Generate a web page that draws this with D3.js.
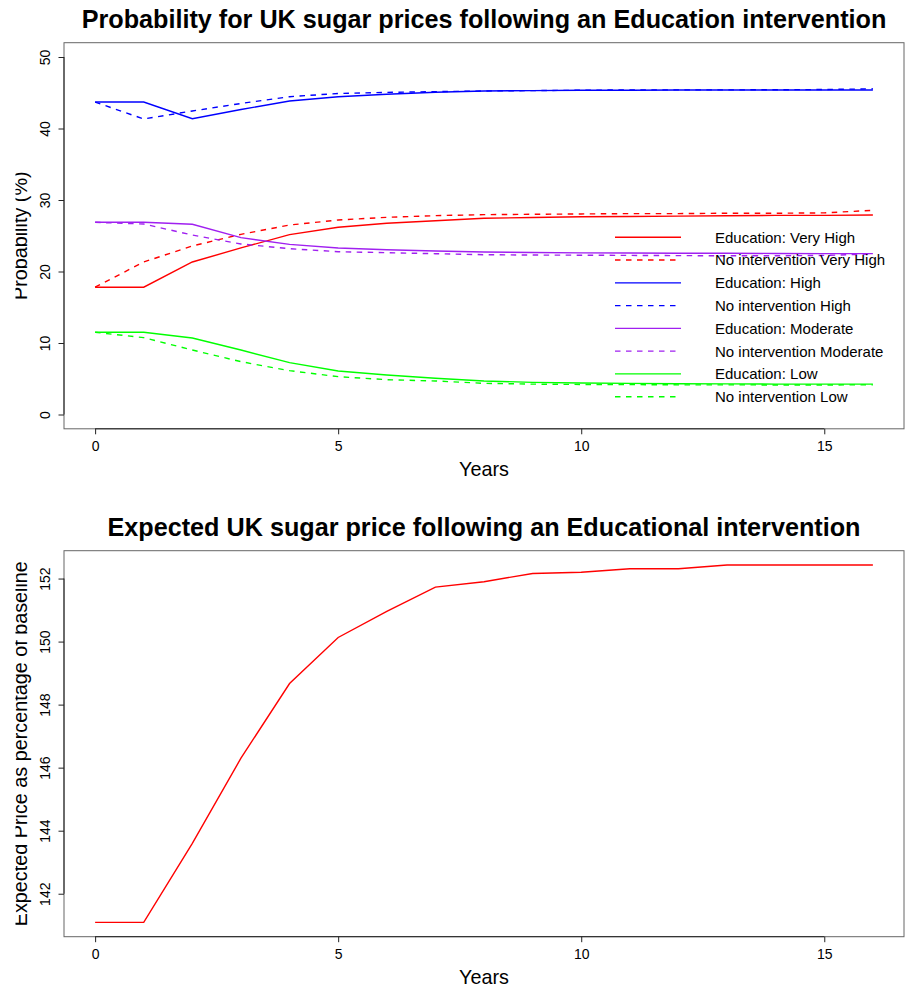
<!DOCTYPE html>
<html><head><meta charset="utf-8">
<script src="https://cdn.jsdelivr.net/npm/d3@7"></script>
<style>
body{margin:0;background:#fff}
svg{display:block}
text{font-family:"Liberation Sans",Arial,Helvetica,sans-serif;fill:#000}
</style>
</head><body>
<svg id="c" width="906" height="990"></svg>
<script>
// ---------- data ----------
const years = [0,1,2,3,4,5,6,7,8,9,10,11,12,13,14,15,16];
const eduVeryHigh = [17.8,17.8,21.33,23.3,25.15,26.18,26.74,27.1,27.44,27.55,27.65,27.7,27.75,27.8,27.85,27.85,27.9];
const noVeryHigh  = [17.8,21.33,23.57,25.2,26.5,27.2,27.58,27.81,27.95,28.0,28.05,28.1,28.1,28.15,28.15,28.2,28.55];
const eduHigh     = [43.7,43.7,41.37,42.65,43.85,44.45,44.8,45.06,45.24,45.3,45.35,45.35,45.38,45.38,45.38,45.38,45.38];
const noHigh      = [43.7,41.33,42.45,43.5,44.45,44.9,45.05,45.15,45.25,45.3,45.35,45.4,45.4,45.4,45.42,45.45,45.55];
const eduModerate = [26.88,26.88,26.6,24.73,23.8,23.29,23.05,22.87,22.73,22.65,22.6,22.58,22.55,22.55,22.52,22.5,22.5];
const noModerate  = [26.88,26.64,25.1,23.85,23.19,22.77,22.63,22.49,22.35,22.3,22.28,22.25,22.22,22.2,22.2,22.25,22.45];
const eduLow      = [11.5,11.5,10.7,9.02,7.25,6.08,5.52,5.06,4.69,4.5,4.4,4.35,4.3,4.28,4.25,4.25,4.25];
const noLow       = [11.5,10.75,9.02,7.39,6.13,5.29,4.87,4.69,4.36,4.25,4.2,4.18,4.15,4.15,4.13,4.13,4.15];
const expectedPrice = [141.09,141.09,143.6,146.3,148.67,150.13,150.96,151.73,151.9,152.16,152.2,152.31,152.31,152.43,152.43,152.43,152.43];

const legendLabels = ["Education: Very High","No intervention Very High","Education: High","No intervention High",
  "Education: Moderate","No intervention Moderate","Education: Low","No intervention Low"];
const seriesValues = [eduVeryHigh,noVeryHigh,eduHigh,noHigh,eduModerate,noModerate,eduLow,noLow];
const seriesColors = ["#FF0000","#FF0000","#0000FF","#0000FF","#A020F0","#A020F0","#00FF00","#00FF00"];
const seriesDashed = [false,true,false,true,false,true,false,true];

const xTicks = [0,5,10,15];
const yTicksTop = [0,10,20,30,40,50];
const yTicksBottom = [142,144,146,148,150,152];

const title1 = "Probability for UK sugar prices following an Education intervention";
const title2 = "Expected UK sugar price following an Educational intervention";
const xLabel = "Years";
const yLabel1 = "Probability (%)";
const yLabel2 = "Expected Price as percentage of baseline";

// ---------- drawing ----------
const svg = d3.select("#c");
const L = 64, R = 904;
const DASH = "5.5,5.5";
const LW = 1.4;

svg.append("clipPath").attr("id","leftclip")
  .append("rect").attr("x",15.5).attr("y",0).attr("width",900).attr("height",990);

function pad(ext){ const d=(ext[1]-ext[0])*0.04; return [ext[0]-d, ext[1]+d]; }

function panel(top, bottom, yDomain, yTicks, title, yLab){
  const x = d3.scaleLinear().domain(pad([0,16])).range([L,R]);
  const y = d3.scaleLinear().domain(pad(yDomain)).range([bottom, top]);
  const g = svg.append("g");
  g.append("rect").attr("x",L).attr("y",top).attr("width",R-L).attr("height",bottom-top)
    .attr("fill","none").attr("stroke","#666").attr("stroke-width",1);
  const xa = g.append("g").attr("transform",`translate(0,${bottom})`)
    .call(d3.axisBottom(x).tickValues(xTicks).tickSize(5.5).tickFormat(d3.format("d")));
  xa.select(".domain").attr("d",`M${x(xTicks[0])},0H${x(xTicks[xTicks.length-1])}`).attr("stroke","#222");
  xa.selectAll(".tick line").attr("stroke","#222");
  xa.selectAll(".tick text").attr("font-size",14).attr("font-family",null).attr("dy",null).attr("y",22);
  const ya = g.append("g").attr("transform",`translate(${L},0)`)
    .call(d3.axisLeft(y).tickValues(yTicks).tickSize(5.5).tickFormat(d3.format("d")));
  ya.select(".domain").attr("d",`M0,${y(yTicks[0])}V${y(yTicks[yTicks.length-1])}`).attr("stroke","#222");
  ya.selectAll(".tick line").attr("stroke","#222");
  ya.selectAll(".tick text").attr("font-size",14).attr("font-family",null)
    .attr("x",null).attr("dy",null).attr("text-anchor","middle")
    .attr("transform","translate(-14,0) rotate(-90)");
  svg.append("text").attr("x",(L+R)/2).attr("y",top-14.5).attr("text-anchor","middle")
    .attr("font-size",25.2).attr("font-weight","bold").text(title);
  svg.append("text").attr("x",(L+R)/2).attr("y",bottom+47).attr("text-anchor","middle")
    .attr("font-size",19.8).text(xLabel);
  svg.append("g").attr("clip-path","url(#leftclip)")
    .append("text")
    .attr("transform",`translate(27,${(top+bottom)/2}) rotate(-90)`)
    .attr("text-anchor","middle").attr("font-size",19.8).text(yLab);
  return {x,y,g};
}

const p1 = panel(42.7, 428.8, [0,50], yTicksTop, title1, yLabel1);
const p2 = panel(550.7, 936.7, d3.extent(expectedPrice), yTicksBottom, title2, yLabel2);

// top chart lines
const line1 = d3.line().x((d,i)=>p1.x(years[i])).y(d=>p1.y(d));
seriesValues.forEach((vals,k)=>{
  p1.g.append("path").attr("d",line1(vals)).attr("fill","none")
    .attr("stroke",seriesColors[k]).attr("stroke-width",LW)
    .attr("stroke-dasharray",seriesDashed[k]?DASH:null);
});

// legend
const lgY0 = 237.3, lgDy = 22.77;
legendLabels.forEach((lab,k)=>{
  const yy = lgY0 + k*lgDy;
  svg.append("line").attr("x1",615).attr("x2",681).attr("y1",yy).attr("y2",yy)
    .attr("stroke",seriesColors[k]).attr("stroke-width",LW)
    .attr("stroke-dasharray",seriesDashed[k]?DASH:null);
  svg.append("text").attr("x",715).attr("y",yy).attr("dy","0.36em")
    .attr("font-size",15).text(lab);
});

// bottom chart line
const line2 = d3.line().x((d,i)=>p2.x(years[i])).y(d=>p2.y(d));
p2.g.append("path").attr("d",line2(expectedPrice)).attr("fill","none")
  .attr("stroke","#FF0000").attr("stroke-width",LW);
</script>
</body></html>
